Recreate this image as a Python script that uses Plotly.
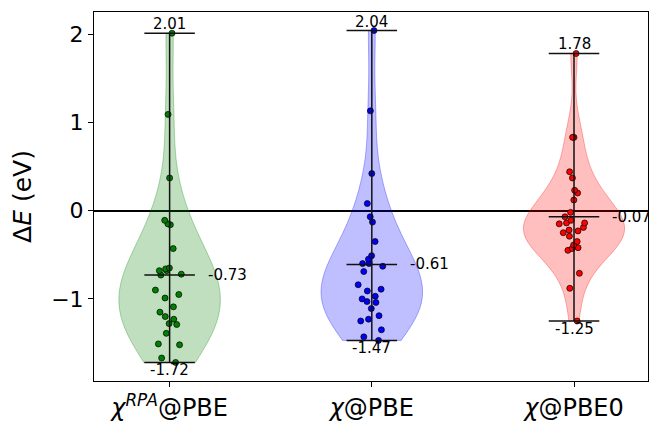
import numpy as np
import plotly.graph_objects as go

# ---- data ----
categories = ["χ<sup>RPA</sup>@PBE", "χ@PBE", "χ@PBE0"]
tick_text = ["<i>χ</i><sup><i>RPA</i></sup>@PBE", "<i>χ</i>@PBE", "<i>χ</i>@PBE0"]

rpa_pbe = [2.01, 1.09, 0.37, -0.16, -0.11, -0.15, -0.43, -0.65, -0.66, -0.68, -0.68,
           -0.72, -0.73, -0.90, -0.95, -0.99, -1.09, -1.15, -1.20, -1.23, -1.28,
           -1.29, -1.39, -1.51, -1.52, -1.67, -1.72]
pbe = [2.04, 1.13, 0.42, 0.08, -0.07, -0.13, -0.35, -0.51, -0.55, -0.60, -0.60,
       -0.63, -0.69, -0.84, -0.89, -0.91, -0.97, -1.00, -1.03, -1.04, -1.11,
       -1.19, -1.23, -1.25, -1.35, -1.43, -1.47]
pbe0 = [1.78, 0.83, 0.83, 0.44, 0.37, 0.23, 0.20, 0.12, -0.02, -0.07, -0.11,
        -0.14, -0.15, -0.14, -0.19, -0.22, -0.23, -0.25, -0.29, -0.35, -0.39,
        -0.42, -0.43, -0.45, -0.71, -0.88, -1.25]

max_vals = [2.01, 2.04, 1.78]
mean_vals = [-0.73, -0.61, -0.07]
min_vals = [-1.72, -1.47, -1.25]

series = [rpa_pbe, pbe, pbe0]
positions = [1, 2, 3]
colors = ["green", "blue", "red"]
fills = ["rgba(0,128,0,0.25)", "rgba(0,0,255,0.25)", "rgba(255,0,0,0.25)"]
edges = ["rgba(0,128,0,0.3)", "rgba(0,0,255,0.3)", "rgba(255,0,0,0.3)"]

FONT = "DejaVu Sans"
VW = 0.5      # violin width (data units)
CAP = 0.125   # half cap width
BW_SCALE = 0.9

fig = go.Figure()

# violin bodies
for vals, pos, fc, ec in zip(series, positions, fills, edges):
    arr = np.asarray(vals)
    bw = BW_SCALE * arr.std(ddof=1) * len(arr) ** (-1 / 5)  # Scott's rule
    fig.add_trace(go.Violin(
        x=[pos] * len(vals), y=vals, width=VW, scalemode="width",
        spanmode="hard", bandwidth=bw, points=False,
        fillcolor=fc, line=dict(color=ec, width=1),
        box_visible=False, meanline_visible=False,
        showlegend=False, hoverinfo="skip", orientation="v",
    ))

# vertical bars and caps
for pos, mx, mn, me in zip(positions, max_vals, min_vals, mean_vals):
    xs = [pos, pos, None, pos - CAP, pos + CAP, None, pos - CAP, pos + CAP, None,
          pos - CAP, pos + CAP]
    ys = [mn, mx, None, mx, mx, None, mn, mn, None, me, me]
    fig.add_trace(go.Scatter(x=xs, y=ys, mode="lines",
                             line=dict(color="#111111", width=1.5),
                             showlegend=False, hoverinfo="skip"))

# jittered points
for vals, pos, c in zip(series, positions, colors):
    fig.add_trace(go.Violin(
        x=[pos] * len(vals), y=vals, width=VW, scalemode="width",
        spanmode="hard", points="all", pointpos=0, jitter=0.3,
        fillcolor="rgba(0,0,0,0)", line=dict(color="rgba(0,0,0,0)", width=0),
        marker=dict(color=c, size=6, line=dict(color="black", width=0.7)),
        box_visible=False, meanline_visible=False,
        showlegend=False, hoverinfo="skip",
    ))

# value labels
ann = []
for pos, mx, mn, me in zip(positions, max_vals, min_vals, mean_vals):
    ann.append(dict(x=pos, y=mx, text=f"{mx:.2f}", showarrow=False,
                    xanchor="center", yanchor="bottom", yshift=-2,
                    font=dict(family=FONT, size=15, color="black")))
    ann.append(dict(x=pos, y=mn, text=f"{mn:.2f}", showarrow=False,
                    xanchor="center", yanchor="top", yshift=3,
                    font=dict(family=FONT, size=15, color="black")))
    ann.append(dict(x=pos + 0.18, y=me, text=f"{me:.2f}", showarrow=False,
                    xanchor="left", yanchor="middle",
                    font=dict(family=FONT, size=15, color="black")))

fig.update_layout(
    width=649, height=422,
    margin=dict(l=94, r=1, t=12, b=41, autoexpand=False),
    plot_bgcolor="white", paper_bgcolor="white",
    font=dict(family=FONT, color="black"),
    annotations=ann,
    violinmode="overlay",
)
fig.update_xaxes(
    range=[0.626, 3.366], tickvals=positions, ticktext=tick_text,
    tickfont=dict(family=FONT, size=24), automargin=False,
    showline=True, linecolor="black", linewidth=1, mirror=True,
    ticks="outside", ticklen=5, tickcolor="black",
    showgrid=False, zeroline=False,
)
fig.update_yaxes(
    range=[-1.93, 2.25], tickvals=[-1, 0, 1, 2], automargin=False,
    tickfont=dict(family=FONT, size=22),
    title=dict(text="Δ<i>E</i> (eV)", font=dict(family=FONT, size=25), standoff=12),
    showline=True, linecolor="black", linewidth=1, mirror=True,
    ticks="outside", ticklen=5, tickcolor="black",
    showgrid=False, zeroline=True, zerolinecolor="black", zerolinewidth=2,
)

fig.write_html(
    "out.html",
    config={"displayModeBar": False},
    post_script="document.body.style.margin='0';document.body.style.padding='0';",
)
